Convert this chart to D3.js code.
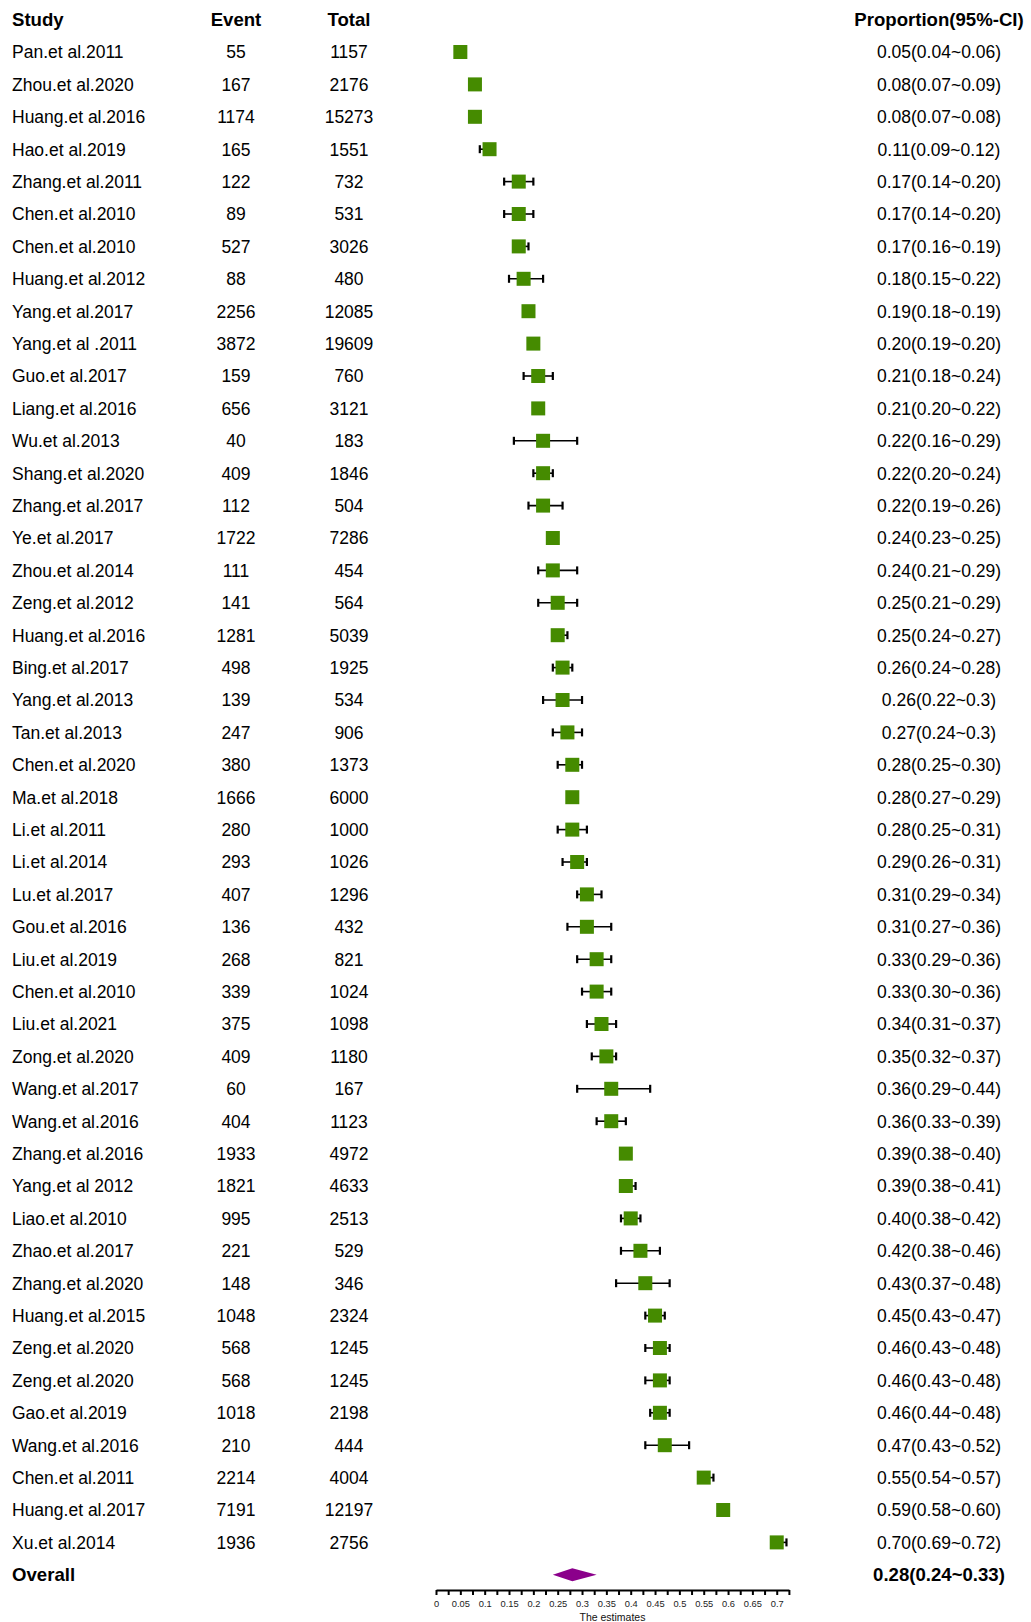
<!DOCTYPE html>
<html><head><meta charset="utf-8">
<script src="https://cdn.jsdelivr.net/npm/d3@7"></script>
<style>
html,body{margin:0;padding:0;background:#fff;}
svg{display:block;font-family:"Liberation Sans",Arial,sans-serif;}
</style></head>
<body><div id="chart"></div>
<script>
const studies = ["Pan.et al.2011","Zhou.et al.2020","Huang.et al.2016","Hao.et al.2019","Zhang.et al.2011","Chen.et al.2010","Chen.et al.2010","Huang.et al.2012","Yang.et al.2017","Yang.et al .2011","Guo.et al.2017","Liang.et al.2016","Wu.et al.2013","Shang.et al.2020","Zhang.et al.2017","Ye.et al.2017","Zhou.et al.2014","Zeng.et al.2012","Huang.et al.2016","Bing.et al.2017","Yang.et al.2013","Tan.et al.2013","Chen.et al.2020","Ma.et al.2018","Li.et al.2011","Li.et al.2014","Lu.et al.2017","Gou.et al.2016","Liu.et al.2019","Chen.et al.2010","Liu.et al.2021","Zong.et al.2020","Wang.et al.2017","Wang.et al.2016","Zhang.et al.2016","Yang.et al 2012","Liao.et al.2010","Zhao.et al.2017","Zhang.et al.2020","Huang.et al.2015","Zeng.et al.2020","Zeng.et al.2020","Gao.et al.2019","Wang.et al.2016","Chen.et al.2011","Huang.et al.2017","Xu.et al.2014"];
const events = [55,167,1174,165,122,89,527,88,2256,3872,159,656,40,409,112,1722,111,141,1281,498,139,247,380,1666,280,293,407,136,268,339,375,409,60,404,1933,1821,995,221,148,1048,568,568,1018,210,2214,7191,1936];
const totals = [1157,2176,15273,1551,732,531,3026,480,12085,19609,760,3121,183,1846,504,7286,454,564,5039,1925,534,906,1373,6000,1000,1026,1296,432,821,1024,1098,1180,167,1123,4972,4633,2513,529,346,2324,1245,1245,2198,444,4004,12197,2756];
const est = [0.05,0.08,0.08,0.11,0.17,0.17,0.17,0.18,0.19,0.20,0.21,0.21,0.22,0.22,0.22,0.24,0.24,0.25,0.25,0.26,0.26,0.27,0.28,0.28,0.28,0.29,0.31,0.31,0.33,0.33,0.34,0.35,0.36,0.36,0.39,0.39,0.40,0.42,0.43,0.45,0.46,0.46,0.46,0.47,0.55,0.59,0.70];
const lower = [0.04,0.07,0.07,0.09,0.14,0.14,0.16,0.15,0.18,0.19,0.18,0.20,0.16,0.20,0.19,0.23,0.21,0.21,0.24,0.24,0.22,0.24,0.25,0.27,0.25,0.26,0.29,0.27,0.29,0.30,0.31,0.32,0.29,0.33,0.38,0.38,0.38,0.38,0.37,0.43,0.43,0.43,0.44,0.43,0.54,0.58,0.69];
const upper = [0.06,0.09,0.08,0.12,0.20,0.20,0.19,0.22,0.19,0.20,0.24,0.22,0.29,0.24,0.26,0.25,0.29,0.29,0.27,0.28,0.30,0.30,0.30,0.29,0.31,0.31,0.34,0.36,0.36,0.36,0.37,0.37,0.44,0.39,0.40,0.41,0.42,0.46,0.48,0.47,0.48,0.48,0.48,0.52,0.57,0.60,0.72];
const ciLabels = ["0.05(0.04~0.06)","0.08(0.07~0.09)","0.08(0.07~0.08)","0.11(0.09~0.12)","0.17(0.14~0.20)","0.17(0.14~0.20)","0.17(0.16~0.19)","0.18(0.15~0.22)","0.19(0.18~0.19)","0.20(0.19~0.20)","0.21(0.18~0.24)","0.21(0.20~0.22)","0.22(0.16~0.29)","0.22(0.20~0.24)","0.22(0.19~0.26)","0.24(0.23~0.25)","0.24(0.21~0.29)","0.25(0.21~0.29)","0.25(0.24~0.27)","0.26(0.24~0.28)","0.26(0.22~0.3)","0.27(0.24~0.3)","0.28(0.25~0.30)","0.28(0.27~0.29)","0.28(0.25~0.31)","0.29(0.26~0.31)","0.31(0.29~0.34)","0.31(0.27~0.36)","0.33(0.29~0.36)","0.33(0.30~0.36)","0.34(0.31~0.37)","0.35(0.32~0.37)","0.36(0.29~0.44)","0.36(0.33~0.39)","0.39(0.38~0.40)","0.39(0.38~0.41)","0.40(0.38~0.42)","0.42(0.38~0.46)","0.43(0.37~0.48)","0.45(0.43~0.47)","0.46(0.43~0.48)","0.46(0.43~0.48)","0.46(0.44~0.48)","0.47(0.43~0.52)","0.55(0.54~0.57)","0.59(0.58~0.60)","0.70(0.69~0.72)"];
const overall = {label:"Overall", est:0.28, lower:0.24, upper:0.33, text:"0.28(0.24~0.33)"};
const headers = ["Study","Event","Total","Proportion(95%-CI)"];
const axisTicks = d3.range(0, 0.7251, 0.025).map(v => +v.toFixed(3));
const axisLabelTicks = d3.range(0, 0.7001, 0.05).map(v => +v.toFixed(2));
const axisTitle = "The estimates";

const W = 1031, H = 1622;
const svg = d3.select("#chart").append("svg").attr("width", W).attr("height", H);

const x = d3.scaleLinear().domain([0, 0.725]).range([436, 788.9]);
const nRows = studies.length + 2;
const y = d3.scalePoint().domain(d3.range(nRows)).range([19.6, 19.6 + (nRows - 1) * 32.4]);

const colX = {study: 12, event: 236, total: 349, prop: 939};
const bodySize = 17.5, headSize = 18.6;

// headers
const hdr = svg.append("g").attr("font-weight", "bold").attr("font-size", headSize).attr("fill", "#000");
hdr.append("text").attr("x", colX.study).attr("y", y(0)).attr("dy", "0.36em").text(headers[0]);
hdr.append("text").attr("x", colX.event).attr("y", y(0)).attr("dy", "0.36em").attr("text-anchor", "middle").text(headers[1]);
hdr.append("text").attr("x", colX.total).attr("y", y(0)).attr("dy", "0.36em").attr("text-anchor", "middle").text(headers[2]);
hdr.append("text").attr("x", colX.prop).attr("y", y(0)).attr("dy", "0.36em").attr("text-anchor", "middle").text(headers[3]);

const rows = studies.map((s, i) => ({s, e: events[i], t: totals[i], est: est[i], lo: lower[i], hi: upper[i], lab: ciLabels[i], r: i + 1}));

const body = svg.append("g").attr("font-size", bodySize).attr("fill", "#000");
const rg = body.selectAll("g.row").data(rows).join("g").attr("class", "row");
rg.append("text").attr("x", colX.study).attr("y", d => y(d.r)).attr("dy", "0.36em").text(d => d.s);
rg.append("text").attr("x", colX.event).attr("y", d => y(d.r)).attr("dy", "0.36em").attr("text-anchor", "middle").text(d => d.e);
rg.append("text").attr("x", colX.total).attr("y", d => y(d.r)).attr("dy", "0.36em").attr("text-anchor", "middle").text(d => d.t);
rg.append("text").attr("x", colX.prop).attr("y", d => y(d.r)).attr("dy", "0.36em").attr("text-anchor", "middle").text(d => d.lab);

// CI whiskers
const ci = svg.append("g").attr("stroke", "#000");
ci.selectAll("line.w").data(rows).join("line").attr("class", "w")
  .attr("x1", d => x(d.lo)).attr("x2", d => x(d.hi)).attr("y1", d => y(d.r)).attr("y2", d => y(d.r)).attr("stroke-width", 1.6);
ci.selectAll("line.cl").data(rows).join("line").attr("class", "cl")
  .attr("x1", d => x(d.lo)).attr("x2", d => x(d.lo)).attr("y1", d => y(d.r) - 4).attr("y2", d => y(d.r) + 4).attr("stroke-width", 2.2);
ci.selectAll("line.ch").data(rows).join("line").attr("class", "ch")
  .attr("x1", d => x(d.hi)).attr("x2", d => x(d.hi)).attr("y1", d => y(d.r) - 4).attr("y2", d => y(d.r) + 4).attr("stroke-width", 2.2);

// boxes
const bs = 14;
svg.append("g").selectAll("rect").data(rows).join("rect")
  .attr("x", d => x(d.est) - bs / 2).attr("y", d => y(d.r) - bs / 2)
  .attr("width", bs).attr("height", bs).attr("fill", "#458B00");

// overall
const oy = y(nRows - 1);
svg.append("text").attr("x", colX.study).attr("y", oy).attr("dy", "0.36em").attr("font-weight", "bold").attr("font-size", headSize).text(overall.label);
svg.append("text").attr("x", colX.prop).attr("y", oy).attr("dy", "0.36em").attr("text-anchor", "middle").attr("font-weight", "bold").attr("font-size", headSize).text(overall.text);
svg.append("path")
  .attr("d", `M${x(overall.lower)},${oy} L${x(overall.est)},${oy - 6.5} L${x(overall.upper)},${oy} L${x(overall.est)},${oy + 6.5} Z`)
  .attr("fill", "#8B008B");

// axis
const axisY = 1590;
const axis = d3.axisBottom(x).tickValues(axisTicks).tickSize(5).tickSizeOuter(0).tickPadding(5)
  .tickFormat(v => axisLabelTicks.some(t => Math.abs(t - v) < 1e-6) ? String(+v.toFixed(2)) : "");
const ag = svg.append("g").attr("transform", `translate(0,${axisY})`).call(axis);
ag.select(".domain").attr("stroke", "#000").attr("stroke-width", 2);
ag.selectAll(".tick line").attr("stroke", "#000").attr("stroke-width", 2);
ag.selectAll(".tick text").attr("font-size", 9.3).attr("fill", "#222").attr("font-family", "'Liberation Sans',Arial,sans-serif");
svg.append("text").attr("x", (x.range()[0] + x.range()[1]) / 2).attr("y", 1620.5).attr("text-anchor", "middle")
  .attr("font-size", 10.5).attr("fill", "#111").text(axisTitle);
</script></body></html>
